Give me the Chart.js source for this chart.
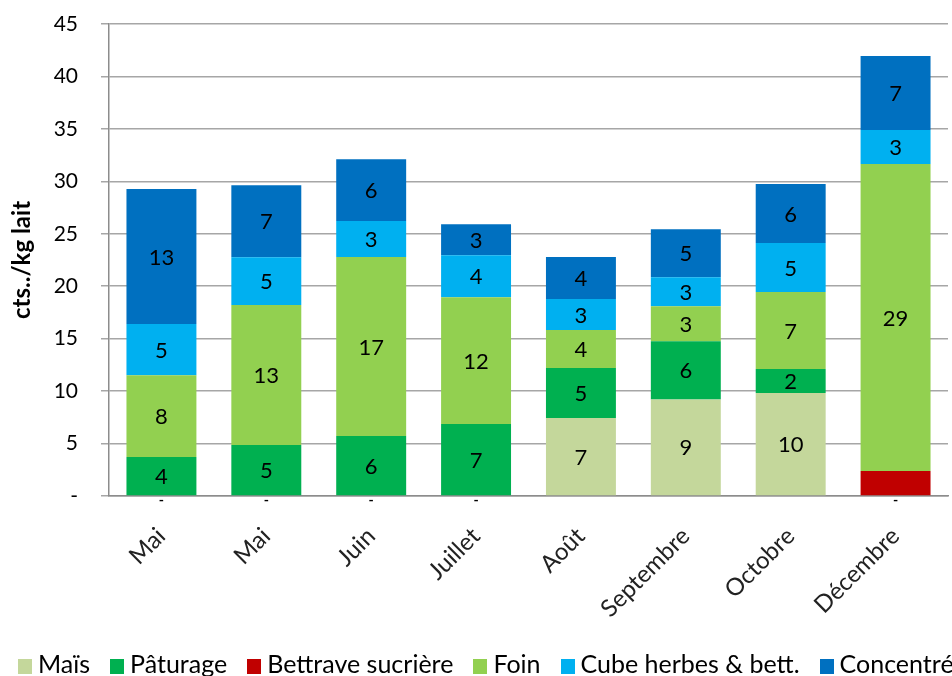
<!DOCTYPE html>
<html>
<head>
<meta charset="utf-8">
<script src="https://cdn.jsdelivr.net/npm/chart.js"></script>
<style>
  html, body { margin: 0; padding: 0; background: #fff; }
  #wrap { position: relative; width: 952px; height: 676px; overflow: hidden; }
  #legend {
    position: absolute; left: 18px; top: 648px; white-space: nowrap;
    font-family: Lato, sans-serif; font-size: 25px; line-height: 30px; color: #000;
  }
  #legend span.item { display: inline-block; margin-right: 20px; }
  #legend i { display: inline-block; width: 14px; height: 15px; margin-right: 6px; vertical-align: -1px; }
</style>
</head>
<body>
<div id="wrap">
  <canvas id="costChart" width="952" height="676"></canvas>
  <div id="legend"></div>
</div>
<script>
  const months = ["Mai", "Mai", "Juin", "Juillet", "Août", "Septembre", "Octobre", "Décembre"];

  const mais       = [0, 0, 0, 0, 7.44, 9.2, 9.82, 0];
  const paturage   = [3.72, 4.86, 5.72, 6.86, 4.77, 5.55, 2.29, 0];
  const betterave  = [0, 0, 0, 0, 0, 0, 0, 2.38];
  const foin       = [7.8, 13.35, 17.06, 12.1, 3.62, 3.34, 7.34, 29.27];
  const cube       = [4.87, 4.55, 3.43, 4.0, 2.96, 2.76, 4.67, 3.24];
  const concentre  = [12.87, 6.86, 5.9, 2.96, 4.0, 4.58, 5.62, 7.05];

  const yTicks = [0, 5, 10, 15, 20, 25, 30, 35, 40, 45];

  const FONT = "Lato";

  const series = [
    { label: "Maïs", data: mais, color: "#C4D79B", zeroDash: true },
    { label: "Pâturage", data: paturage, color: "#00B050" },
    { label: "Bettrave sucrière", data: betterave, color: "#C00000", noLabel: true },
    { label: "Foin", data: foin, color: "#92D050" },
    { label: "Cube herbes & bett.", data: cube, color: "#00B0F0" },
    { label: "Concentré", data: concentre, color: "#0070C0" }
  ];

  /* ---------- segment labels ---------- */
  const segmentLabels = {
    id: "segmentLabels",
    afterDatasetsDraw(chart) {
      const ctx = chart.ctx;
      ctx.save();
      ctx.fillStyle = "#000";
      ctx.textAlign = "center";
      ctx.textBaseline = "middle";
      chart.data.datasets.forEach((ds, i) => {
        if (ds.noLabel) return;
        chart.getDatasetMeta(i).data.forEach((bar, j) => {
          const v = ds.data[j];
          if (v === 0) {
            if (!ds.zeroDash) return;
            ctx.font = "bold 14px " + FONT;
            ctx.fillText("-", bar.x, bar.base + 4);
            return;
          }
          ctx.font = "22px " + FONT;
          ctx.fillText(String(Math.round(v)), bar.x, (bar.y + bar.base) / 2 + 1);
        });
      });
      ctx.restore();
    }
  };

  new Chart(document.getElementById("costChart"), {
    type: "bar",
    data: {
      labels: months,
      datasets: series.map(s => ({
        label: s.label,
        data: s.data,
        backgroundColor: s.color,
        borderWidth: 0,
        categoryPercentage: 1,
        barPercentage: 0.667,
        noLabel: s.noLabel,
        zeroDash: s.zeroDash
      }))
    },
    options: {
      responsive: false,
      animation: false,
      layout: { padding: { top: 24, right: 4, left: 0, bottom: 0 } },
      plugins: { legend: { display: false }, tooltip: { enabled: false } },
      scales: {
        x: {
          stacked: true,
          grid: { display: false },
          border: { color: "#8c8c8c", width: 1.5 },
          ticks: {
            color: "#222",
            font: { family: FONT, size: 24 },
            minRotation: 45,
            maxRotation: 45,
            padding: 18
          },
          afterFit: s => { s.height = 180; }
        },
        y: {
          stacked: true,
          min: 0,
          max: 45,
          afterBuildTicks: s => { s.ticks = yTicks.map(v => ({ value: v })); },
          ticks: {
            color: "#000",
            font: { family: FONT, size: 21 },
            padding: 23,
            callback: v => v === 0 ? "-" : v
          },
          grid: { color: "#a6a6a6", lineWidth: 1.5, tickLength: 8 },
          border: { color: "#8c8c8c", width: 1.5 },
          title: {
            display: true,
            text: "cts../kg lait",
            color: "#000",
            font: { family: FONT, size: 24, weight: "bold" },
            padding: { top: 8, bottom: 0 }
          },
          afterFit: s => { s.width = 109; s.paddingTop = 0; s.paddingBottom = 0; }
        }
      }
    },
    plugins: [segmentLabels]
  });

  /* ---------- legend ---------- */
  document.getElementById("legend").innerHTML = series.map(s =>
    `<span class="item"><i style="background:${s.color}"></i>${s.label}</span>`
  ).join("");
</script>
</body>
</html>
